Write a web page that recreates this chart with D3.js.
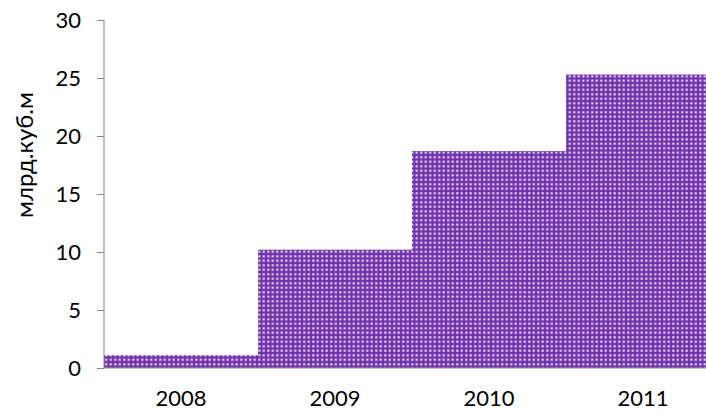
<!DOCTYPE html>
<html>
<head>
  <meta charset='utf-8' />
  <title>Gas volumes</title>
  <style>
    html, body { margin: 0; padding: 0; background: #fff; }
    svg text { font-family: Lato, 'Open Sans', sans-serif; fill: #000; }
    .axis path, .axis line { stroke: #868686; }
  </style>
</head>
<body>
<div id='chart'></div>
<script src="https://d3js.org/d3.v7.min.js"></script>
<script>
  // values
  const years = ['2008', '2009', '2010', '2011']
  const volumes = [1.1, 10.2, 18.7, 25.3]
  const yTicks = [0, 5, 10, 15, 20, 25, 30]
  const yLabel = 'млрд.куб.м'

  const W = 706
  const H = 412
  const margin = { top: 20, right: -14, bottom: 44, left: 104 }
  const width = W - margin.left - margin.right
  const height = H - margin.top - margin.bottom

  const svg = d3.select('#chart').append('svg')
    .attr('width', W)
    .attr('height', H)

  // dotted purple fill
  const pat = svg.append('defs').append('pattern')
    .attr('id', 'dots')
    .attr('patternUnits', 'userSpaceOnUse')
    .attr('width', 4.5)
    .attr('height', 4.5)
  pat.append('rect').attr('width', 4.5).attr('height', 4.5).attr('fill', '#7232ab')
  pat.append('rect').attr('x', 1).attr('y', 1).attr('width', 2.5).attr('height', 2.5)
    .attr('fill', '#a985d2')
  pat.append('rect').attr('x', 1.5).attr('y', 1.5).attr('width', 1.5).attr('height', 1.5)
    .attr('fill', '#f6f0fc')

  const g = svg.append('g')
    .attr('transform', 'translate(' + margin.left + ',' + margin.top + ')')

  const x = d3.scaleBand()
    .domain(years)
    .range([0, width])
    .padding(0)

  const y = d3.scaleLinear()
    .domain([0, 30])
    .range([height, 0])

  g.selectAll('rect.bar')
    .data(years)
    .enter()
    .append('rect')
    .attr('class', 'bar')
    .attr('x', d => x(d))
    .attr('width', x.bandwidth())
    .attr('y', (d, i) => y(volumes[i]))
    .attr('height', (d, i) => height - y(volumes[i]))
    .attr('fill', 'url(#dots)')

  const yAxis = g.append('g')
    .attr('class', 'axis')
    .call(d3.axisLeft(y).tickValues(yTicks).tickSize(7).tickPadding(16))
  yAxis.attr('font-family', null).attr('font-size', null)
  yAxis.select('.domain').attr('d', 'M0,' + y(30) + 'V' + y(0))
  yAxis.selectAll('text').style('font-size', '22px')

  const xAxis = g.append('g')
    .attr('class', 'axis')
    .attr('transform', 'translate(0,' + height + ')')
    .call(d3.axisBottom(x).tickSize(0).tickPadding(22))
  xAxis.attr('font-family', null).attr('font-size', null)
  xAxis.select('.domain').attr('d', 'M0,0H' + width)
  xAxis.selectAll('text').style('font-size', '22px')

  svg.append('text')
    .attr('transform', 'translate(33,155) rotate(-90)')
    .attr('text-anchor', 'middle')
    .style('font-size', '24px')
    .text(yLabel)
</script>
</body>
</html>
